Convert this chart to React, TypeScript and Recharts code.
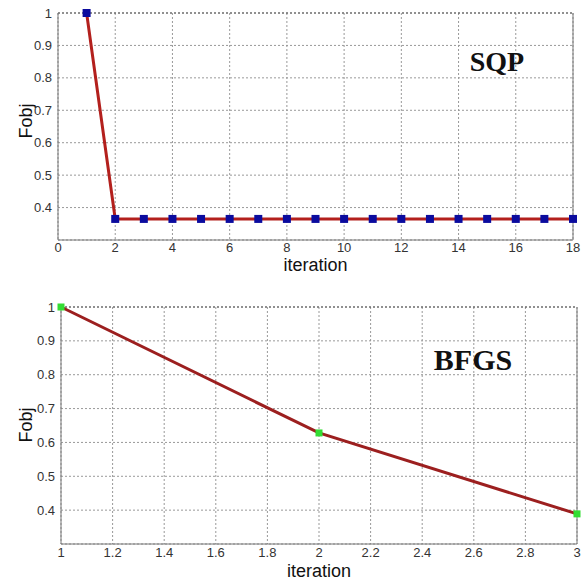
import { LineChart, Line, XAxis, YAxis, CartesianGrid, ReferenceLine, Label } from "recharts"

// SQP run: objective value per iteration
const sqpIterations = [1, 2, 3, 4, 5, 6, 7, 8, 9, 10, 11, 12, 13, 14, 15, 16, 17, 18]
const sqpFobj = [
  1, 0.365, 0.365, 0.365, 0.365, 0.365, 0.365, 0.365, 0.365, 0.365, 0.365, 0.365, 0.365,
  0.365, 0.365, 0.365, 0.365, 0.365,
]
const sqpXTicks = [0, 2, 4, 6, 8, 10, 12, 14, 16, 18]

// BFGS run
const bfgsIterations = [1, 2, 3]
const bfgsFobj = [1, 0.628, 0.389]
const bfgsXTicks = [1, 1.2, 1.4, 1.6, 1.8, 2, 2.2, 2.4, 2.6, 2.8, 3]

const yTicks = [0.4, 0.5, 0.6, 0.7, 0.8, 0.9, 1]

const sqpData = sqpIterations.map((it, i) => ({ it, fobj: sqpFobj[i] }))
const bfgsData = bfgsIterations.map((it, i) => ({ it, fobj: bfgsFobj[i] }))

const font = "'Liberation Sans', Arial, sans-serif"
const tick = { fontSize: 13, fill: "#333", fontFamily: font }
const axisLabelStyle = { fontSize: 18, fill: "#111", fontFamily: font }
const gridColor = "#999"
const axisColor = "#777"

function square(color: string, size: number) {
  return (props: any) => {
    const { cx, cy, index } = props
    if (cx == null || cy == null) return <g key={index} />
    return (
      <rect key={index} x={cx - size / 2} y={cy - size / 2} width={size} height={size} fill={color} />
    )
  }
}

// rotated y label at a fixed spot in chart coordinates
function yLabel(x: number, y: number) {
  return () => (
    <text
      x={x}
      y={y}
      transform={`rotate(-90 ${x} ${y})`}
      textAnchor="middle"
      dominantBaseline="central"
      style={axisLabelStyle}
    >
      Fobj
    </text>
  )
}

const titleStyle: React.CSSProperties = {
  position: "absolute",
  fontFamily: "'Liberation Serif', 'Times New Roman', serif",
  fontWeight: "bold",
  color: "#111",
  transform: "translate(-50%, -50%)",
  whiteSpace: "nowrap",
}

export default function App() {
  return (
    <div style={{ position: "absolute", left: 0, top: 0, width: 588, height: 581, background: "#fff" }}>
      <div style={{ position: "absolute", left: 0, top: 0 }}>
        <LineChart width={588} height={290} data={sqpData} margin={{ top: 13, right: 15, left: 0, bottom: 0 }}>
          <CartesianGrid stroke={gridColor} strokeDasharray="2 2" />
          <XAxis
            dataKey="it"
            type="number"
            domain={[0, 18]}
            ticks={sqpXTicks}
            height={50}
            tick={tick}
            tickLine={false}
            tickSize={0}
            tickMargin={3}
            axisLine={{ stroke: axisColor }}
            label={{ value: "iteration", position: "center", dy: 0, style: axisLabelStyle }}
          />
          <YAxis
            type="number"
            domain={[0.3, 1]}
            ticks={yTicks}
            width={58}
            tick={tick}
            tickLine={false}
            tickSize={0}
            tickMargin={6}
            axisLine={{ stroke: axisColor }}
          >
            <Label content={yLabel(26, 121)} />
          </YAxis>
          <ReferenceLine x={18} stroke={axisColor} />
          <ReferenceLine y={1} stroke="#555" strokeDasharray="2 2" />
          <Line
            dataKey="fobj"
            stroke="#b3201d"
            strokeWidth={3}
            dot={square("#0b0b9e", 8)}
            activeDot={false}
            isAnimationActive={false}
          />
        </LineChart>
        <div style={{ ...titleStyle, left: 497, top: 62, fontSize: 28 }}>SQP</div>
      </div>
      <div style={{ position: "absolute", left: 0, top: 290 }}>
        <LineChart width={588} height={291} data={bfgsData} margin={{ top: 17, right: 11, left: 0, bottom: 0 }}>
          <CartesianGrid stroke={gridColor} strokeDasharray="2 2" />
          <XAxis
            dataKey="it"
            type="number"
            domain={[1, 3]}
            ticks={bfgsXTicks}
            height={37}
            tick={tick}
            tickLine={false}
            tickSize={0}
            tickMargin={4}
            axisLine={{ stroke: axisColor }}
            label={{ value: "iteration", position: "center", dy: 8, style: axisLabelStyle }}
          />
          <YAxis
            type="number"
            domain={[0.3, 1]}
            ticks={yTicks}
            width={61}
            tick={tick}
            tickLine={false}
            tickSize={0}
            tickMargin={6}
            axisLine={{ stroke: axisColor }}
          >
            <Label content={yLabel(26, 135)} />
          </YAxis>
          <ReferenceLine x={3} stroke={axisColor} />
          <ReferenceLine y={1} stroke="#555" strokeDasharray="2 2" />
          <Line
            dataKey="fobj"
            stroke="#9c1f1f"
            strokeWidth={3}
            dot={square("#33dd33", 7)}
            activeDot={false}
            isAnimationActive={false}
          />
        </LineChart>
        <div style={{ ...titleStyle, left: 473, top: 70, fontSize: 30 }}>BFGS</div>
      </div>
    </div>
  )
}
